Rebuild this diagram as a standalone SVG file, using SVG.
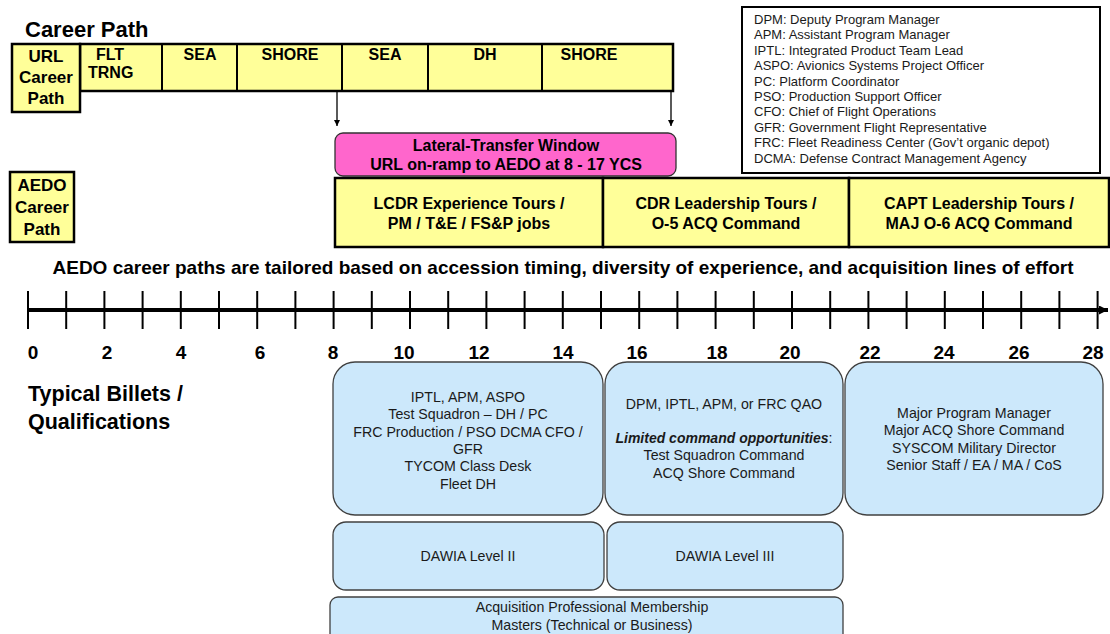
<svg xmlns="http://www.w3.org/2000/svg" width="1110" height="634" viewBox="0 0 1110 634">
  <style>
    .bold { font-family: "Liberation Sans", Arial, sans-serif; font-weight: bold; fill: #000; }
    .reg { font-family: "Liberation Sans", Arial, sans-serif; fill: #1a1a1a; }
    .yellow { fill: #ffff99; stroke: #000; stroke-width: 2.5; }
    .blue { fill: #cce8fb; stroke: #404040; stroke-width: 1.3; }
    .tick { stroke: #000; stroke-width: 2; }
  </style>
  <defs>
    <marker id="arrowSmall" viewBox="0 0 10 10" refX="10" refY="5" markerWidth="6" markerHeight="7" orient="auto" markerUnits="userSpaceOnUse">
      <path d="M0,0 L10,5 L0,10 Z" fill="#000"/>
    </marker>
    <marker id="arrowAxis" viewBox="0 0 10 10" refX="10" refY="5" markerWidth="10" markerHeight="9" orient="auto" markerUnits="userSpaceOnUse">
      <path d="M0,0 L10,5 L0,10 Z" fill="#000"/>
    </marker>
  </defs>

  <rect width="1110" height="634" fill="#fff"/>

  <!-- URL career path -->
  <g id="url-path">
    <text class="bold" x="25" y="37" font-size="22">Career Path</text>
    <rect class="yellow" x="80" y="44" width="593" height="47" stroke-width="2"/>
    <line x1="162" y1="44" x2="162" y2="91" stroke="#000" stroke-width="2"/>
    <line x1="237" y1="44" x2="237" y2="91" stroke="#000" stroke-width="2"/>
    <line x1="342" y1="44" x2="342" y2="91" stroke="#000" stroke-width="2"/>
    <line x1="428" y1="44" x2="428" y2="91" stroke="#000" stroke-width="2"/>
    <line x1="542" y1="44" x2="542" y2="91" stroke="#000" stroke-width="2"/>
    <rect class="yellow" x="12" y="44" width="68" height="68" stroke-width="2"/>
    <g class="bold" font-size="17" text-anchor="middle">
      <text x="46" y="62">URL</text>
      <text x="46" y="83">Career</text>
      <text x="46" y="104">Path</text>
    </g>
    <g class="bold" font-size="16">
      <text x="96" y="60">FLT</text>
      <text x="88" y="78">TRNG</text>
      <text x="200" y="60" text-anchor="middle">SEA</text>
      <text x="290" y="60" text-anchor="middle">SHORE</text>
      <text x="385" y="60" text-anchor="middle">SEA</text>
      <text x="485" y="60" text-anchor="middle">DH</text>
      <text x="589" y="60" text-anchor="middle">SHORE</text>
    </g>
  </g>

  <!-- Transfer arrows -->
  <g id="connectors" stroke="#000" stroke-width="1.3">
    <line x1="337" y1="91" x2="337" y2="126" marker-end="url(#arrowSmall)"/>
    <line x1="671" y1="91" x2="671" y2="126" marker-end="url(#arrowSmall)"/>
  </g>

  <!-- Lateral transfer window -->
  <g id="transfer-window">
    <rect x="335" y="133" width="341" height="43" rx="8" fill="#ff66cc" stroke="#333" stroke-width="1.3"/>
    <g class="bold" font-size="16" text-anchor="middle">
      <text x="506" y="151">Lateral-Transfer Window</text>
      <text x="506" y="170">URL on-ramp to AEDO at 8 - 17 YCS</text>
    </g>
  </g>

  <!-- Abbreviations -->
  <g id="legend">
    <rect x="742" y="7" width="358" height="166" fill="#fff" stroke="#000" stroke-width="2"/>
    <g class="reg" font-size="13" fill="#262626">
      <text x="754" y="24">DPM: Deputy Program Manager</text>
      <text x="754" y="39.4">APM: Assistant Program Manager</text>
      <text x="754" y="54.8">IPTL: Integrated Product Team Lead</text>
      <text x="754" y="70.2">ASPO: Avionics Systems Project Officer</text>
      <text x="754" y="85.6">PC: Platform Coordinator</text>
      <text x="754" y="101">PSO: Production Support Officer</text>
      <text x="754" y="116.4">CFO: Chief of Flight Operations</text>
      <text x="754" y="131.8">GFR: Government Flight Representative</text>
      <text x="754" y="147.2">FRC: Fleet Readiness Center (Gov’t organic depot)</text>
      <text x="754" y="162.6">DCMA: Defense Contract Management Agency</text>
    </g>
  </g>

  <!-- AEDO career path -->
  <g id="aedo-label">
    <rect class="yellow" x="10" y="172" width="64" height="70" stroke-width="2"/>
    <g class="bold" font-size="17" text-anchor="middle">
      <text x="42" y="191">AEDO</text>
      <text x="42" y="213">Career</text>
      <text x="42" y="235">Path</text>
    </g>
  </g>
  <g id="aedo-lcdr">
    <rect class="yellow" x="335" y="178" width="268" height="69"/>
    <g class="bold" font-size="16" text-anchor="middle">
      <text x="469" y="209">LCDR Experience Tours /</text>
      <text x="469" y="229">PM / T&amp;E / FS&amp;P jobs</text>
    </g>
  </g>
  <g id="aedo-cdr">
    <rect class="yellow" x="603" y="178" width="246" height="69"/>
    <g class="bold" font-size="16" text-anchor="middle">
      <text x="726" y="209">CDR Leadership Tours /</text>
      <text x="726" y="229">O-5 ACQ Command</text>
    </g>
  </g>
  <g id="aedo-capt">
    <rect class="yellow" x="849" y="178" width="260" height="69"/>
    <g class="bold" font-size="16" text-anchor="middle">
      <text x="979" y="209">CAPT Leadership Tours /</text>
      <text x="979" y="229">MAJ O-6 ACQ Command</text>
    </g>
  </g>

  <text class="bold" x="563" y="274" font-size="19" text-anchor="middle">AEDO career paths are tailored based on accession timing, diversity of experience, and acquisition lines of effort</text>

  <!-- Years-of-service axis -->
  <g id="axis">
    <line x1="28" y1="310" x2="1108" y2="310" stroke="#000" stroke-width="4" marker-end="url(#arrowAxis)"/>
    <g class="tick">
      <line x1="28" y1="291" x2="28" y2="329"/>
      <line x1="66.2" y1="291" x2="66.2" y2="329"/>
      <line x1="104.4" y1="291" x2="104.4" y2="329"/>
      <line x1="142.6" y1="291" x2="142.6" y2="329"/>
      <line x1="180.8" y1="291" x2="180.8" y2="329"/>
      <line x1="219" y1="291" x2="219" y2="329"/>
      <line x1="257.2" y1="291" x2="257.2" y2="329"/>
      <line x1="295.4" y1="291" x2="295.4" y2="329"/>
      <line x1="333.6" y1="291" x2="333.6" y2="329"/>
      <line x1="371.8" y1="291" x2="371.8" y2="329"/>
      <line x1="410" y1="291" x2="410" y2="329"/>
      <line x1="448.2" y1="291" x2="448.2" y2="329"/>
      <line x1="486.4" y1="291" x2="486.4" y2="329"/>
      <line x1="524.6" y1="291" x2="524.6" y2="329"/>
      <line x1="562.8" y1="291" x2="562.8" y2="329"/>
      <line x1="601" y1="291" x2="601" y2="329"/>
      <line x1="639.2" y1="291" x2="639.2" y2="329"/>
      <line x1="677.4" y1="291" x2="677.4" y2="329"/>
      <line x1="715.6" y1="291" x2="715.6" y2="329"/>
      <line x1="753.8" y1="291" x2="753.8" y2="329"/>
      <line x1="792" y1="291" x2="792" y2="329"/>
      <line x1="830.2" y1="291" x2="830.2" y2="329"/>
      <line x1="868.4" y1="291" x2="868.4" y2="329"/>
      <line x1="906.6" y1="291" x2="906.6" y2="329"/>
      <line x1="944.8" y1="291" x2="944.8" y2="329"/>
      <line x1="983" y1="291" x2="983" y2="329"/>
      <line x1="1021.2" y1="291" x2="1021.2" y2="329"/>
      <line x1="1059.4" y1="291" x2="1059.4" y2="329"/>
      <line x1="1097.6" y1="291" x2="1097.6" y2="329"/>
    </g>
    <g class="bold" font-size="19" text-anchor="middle">
      <text x="33" y="359">0</text>
      <text x="107" y="359">2</text>
      <text x="181" y="359">4</text>
      <text x="260" y="359">6</text>
      <text x="333" y="359">8</text>
      <text x="404" y="359">10</text>
      <text x="479" y="359">12</text>
      <text x="563" y="359">14</text>
      <text x="637" y="359">16</text>
      <text x="717" y="359">18</text>
      <text x="790" y="359">20</text>
      <text x="870" y="359">22</text>
      <text x="944" y="359">24</text>
      <text x="1019" y="359">26</text>
      <text x="1093" y="359">28</text>
    </g>
  </g>

  <g id="billets-label" class="bold" font-size="21.5">
    <text x="28" y="401">Typical Billets /</text>
    <text x="28" y="429">Qualifications</text>
  </g>

  <!-- Billets -->
  <g id="billets-lcdr">
    <rect class="blue" x="333" y="362" width="270" height="153" rx="22"/>
    <g class="reg" font-size="14.2" text-anchor="middle">
      <text x="468" y="402">IPTL, APM, ASPO</text>
      <text x="468" y="419.3">Test Squadron – DH / PC</text>
      <text x="468" y="436.6">FRC Production / PSO DCMA CFO /</text>
      <text x="468" y="453.9">GFR</text>
      <text x="468" y="471.2">TYCOM Class Desk</text>
      <text x="468" y="488.5">Fleet DH</text>
    </g>
  </g>
  <g id="billets-cdr">
    <rect class="blue" x="605" y="362" width="238" height="153" rx="22"/>
    <g class="reg" font-size="14.2" text-anchor="middle">
      <text x="724" y="409">DPM, IPTL, APM, or FRC QAO</text>
      <text x="724" y="443"><tspan font-weight="bold" font-style="italic" font-size="14">Limited command opportunities</tspan>:</text>
      <text x="724" y="460.3">Test Squadron Command</text>
      <text x="724" y="477.6">ACQ Shore Command</text>
    </g>
  </g>
  <g id="billets-capt">
    <rect class="blue" x="845" y="362" width="258" height="153" rx="22"/>
    <g class="reg" font-size="14.2" text-anchor="middle">
      <text x="974" y="418">Major Program Manager</text>
      <text x="974" y="435.3">Major ACQ Shore Command</text>
      <text x="974" y="452.6">SYSCOM Military Director</text>
      <text x="974" y="469.9">Senior Staff / EA / MA / CoS</text>
    </g>
  </g>

  <!-- Qualifications -->
  <g id="dawia-2">
    <rect class="blue" x="333" y="522" width="271" height="68" rx="13"/>
    <text class="reg" x="468" y="561" font-size="14.2" text-anchor="middle">DAWIA Level II</text>
  </g>
  <g id="dawia-3">
    <rect class="blue" x="607" y="522" width="236" height="68" rx="13"/>
    <text class="reg" x="725" y="561" font-size="14.2" text-anchor="middle">DAWIA Level III</text>
  </g>
  <g id="membership">
    <rect class="blue" x="330" y="597" width="513" height="50" rx="8"/>
    <g class="reg" font-size="14.2" text-anchor="middle">
      <text x="592" y="612">Acquisition Professional Membership</text>
      <text x="592" y="630">Masters (Technical or Business)</text>
    </g>
  </g>
</svg>
